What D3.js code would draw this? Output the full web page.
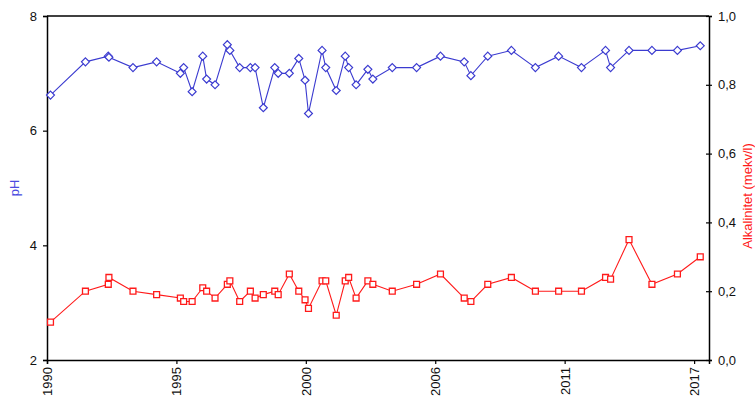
<!DOCTYPE html>
<html>
<head>
<meta charset="utf-8">
<script src="https://cdn.jsdelivr.net/npm/d3@7"></script>
<style>
  html, body { margin: 0; padding: 0; background: #fff; }
  svg { display: block; font-family: "Liberation Sans", Arial, sans-serif; }
</style>
</head>
<body>
<svg id="chart" width="755" height="399"></svg>
<script>
// Sampling dates (shared by both series)
const sampleDates = [
  "1990-02-24", "1991-08-18", "1992-08-05", "1992-08-15", "1993-08-22", "1994-08-22",
  "1995-08-24", "1995-10-14", "1996-02-22", "1996-08-04", "1996-10-03", "1997-02-10",
  "1997-08-19", "1997-09-27", "1998-02-26", "1998-08-10", "1998-10-22", "1999-02-26",
  "1999-08-22", "1999-10-14", "2000-04-03", "2000-08-27", "2000-12-02", "2001-01-24",
  "2001-08-22", "2001-10-18", "2002-03-29", "2002-08-15", "2002-10-07", "2003-01-30",
  "2003-07-31", "2003-10-16", "2004-08-11", "2005-08-22", "2006-08-26", "2007-08-28",
  "2007-12-09", "2008-08-26", "2009-08-26", "2010-09-01", "2011-08-26", "2012-08-13",
  "2013-08-20", "2013-11-06", "2014-08-18", "2015-08-07", "2016-09-04", "2017-08-23"
];

// pH
const phValues = [
  6.62, 7.2, 7.3, 7.28, 7.1, 7.2,
  7.0, 7.1, 6.68, 7.3, 6.9, 6.8,
  7.5, 7.4, 7.1, 7.1, 7.1, 6.4,
  7.1, 7.0, 7.0, 7.26, 6.88, 6.3,
  7.4, 7.1, 6.7, 7.3, 7.1, 6.8,
  7.07, 6.9, 7.1, 7.1, 7.3, 7.2,
  6.96, 7.3, 7.4, 7.1, 7.3, 7.1,
  7.4, 7.1, 7.4, 7.4, 7.4, 7.48
];

// Alkalinitet (mekv/l)
const alkValues = [
  0.11, 0.20, 0.22, 0.24, 0.20, 0.19,
  0.18, 0.17, 0.17, 0.21, 0.20, 0.18,
  0.22, 0.23, 0.17, 0.20, 0.18, 0.19,
  0.20, 0.19, 0.25, 0.20, 0.175, 0.15,
  0.23, 0.23, 0.13, 0.23, 0.24, 0.18,
  0.23, 0.22, 0.20, 0.22, 0.25, 0.18,
  0.17, 0.22, 0.24, 0.20, 0.20, 0.20,
  0.24, 0.235, 0.35, 0.22, 0.25, 0.30
];

// Axis setup
const xDomain = ["1990-01-01", "2018-01-05"];
const xTickDates = ["1990-01-01", "1995-06-24", "2000-12-14", "2006-06-06", "2011-11-27", "2017-05-20"];
const phTicks = [2, 4, 6, 8];
const alkTicks = [0, 0.2, 0.4, 0.6, 0.8, 1.0];

const parse = d3.utcParse("%Y-%m-%d");
const rows = sampleDates.map((d, i) => ({ date: parse(d), ph: phValues[i], alk: alkValues[i] }));

const svg = d3.select("#chart");
const m = { left: 47, right: 709, top: 16, bottom: 360 };

const x = d3.scaleUtc().domain(xDomain.map(parse)).range([m.left, m.right]);
const yPh = d3.scaleLinear().domain([2, 8]).range([m.bottom, m.top]);
const yAlk = d3.scaleLinear().domain([0, 1]).range([m.bottom, m.top]);

const blue = "#3b3bd0";
const red = "#ff1a1a";
const decFmt = v => d3.format(".1f")(v).replace(".", ",");

// Frame (top edge)
svg.append("line").attr("x1", m.left).attr("x2", m.right).attr("y1", m.top).attr("y2", m.top)
  .attr("stroke", "#000").attr("stroke-width", 1.5);

// Left axis (pH)
const gL = svg.append("g").attr("transform", `translate(${m.left},0)`)
  .call(d3.axisLeft(yPh).tickValues(phTicks).tickSize(4).tickPadding(6).tickFormat(d3.format("d")));

// Right axis (alkalinitet) with crossing ticks
const gR = svg.append("g").attr("transform", `translate(${m.right},0)`)
  .call(d3.axisRight(yAlk).tickValues(alkTicks).tickSize(3).tickPadding(6).tickFormat(decFmt));
gR.selectAll(".tick line").attr("x1", -3).attr("x2", 3);

// Bottom axis (years)
const gB = svg.append("g").attr("transform", `translate(0,${m.bottom})`)
  .call(d3.axisBottom(x).tickValues(xTickDates.map(parse)).tickSize(4).tickFormat(d3.utcFormat("%Y")));
gB.selectAll(".tick text")
  .attr("transform", "rotate(-90)")
  .attr("text-anchor", "end")
  .attr("x", -7).attr("y", 0).attr("dy", "0.35em");

[gL, gR, gB].forEach(g => {
  g.select(".domain").attr("stroke", "#000").attr("stroke-width", 1.5);
  g.selectAll(".tick line").attr("stroke", "#000").attr("stroke-width", 1.2);
  g.selectAll(".tick text").attr("fill", "#111").style("font-size", "13px")
    .style("font-family", "'Liberation Sans', Arial, sans-serif");
});

// pH series
svg.append("path").datum(rows)
  .attr("fill", "none").attr("stroke", blue).attr("stroke-width", 1.1)
  .attr("d", d3.line().x(d => x(d.date)).y(d => yPh(d.ph)));
svg.append("g").selectAll("path").data(rows).join("path")
  .attr("transform", d => `translate(${x(d.date)},${yPh(d.ph)})`)
  .attr("d", d3.symbol(d3.symbolDiamond2, 40)())
  .attr("fill", "#fff").attr("stroke", blue).attr("stroke-width", 1.2);

// Alkalinity series
svg.append("path").datum(rows)
  .attr("fill", "none").attr("stroke", red).attr("stroke-width", 1.1)
  .attr("d", d3.line().x(d => x(d.date)).y(d => yAlk(d.alk)));
svg.append("g").selectAll("path").data(rows).join("path")
  .attr("transform", d => `translate(${x(d.date)},${yAlk(d.alk)})`)
  .attr("d", d3.symbol(d3.symbolSquare2, 44)())
  .attr("fill", "#fff").attr("stroke", red).attr("stroke-width", 1.3);

// Axis titles
svg.append("text")
  .attr("transform", `translate(19,${(m.top + m.bottom) / 2}) rotate(-90)`)
  .attr("text-anchor", "middle")
  .attr("fill", "#4a4ae0").style("font-size", "13px")
  .text("pH");

svg.append("text")
  .attr("transform", `translate(752,${(m.top + m.bottom) / 2 + 8}) rotate(-90)`)
  .attr("text-anchor", "middle")
  .attr("fill", red).style("font-size", "13px")
  .text("Alkalinitet (mekv/l)");
</script>
</body>
</html>
